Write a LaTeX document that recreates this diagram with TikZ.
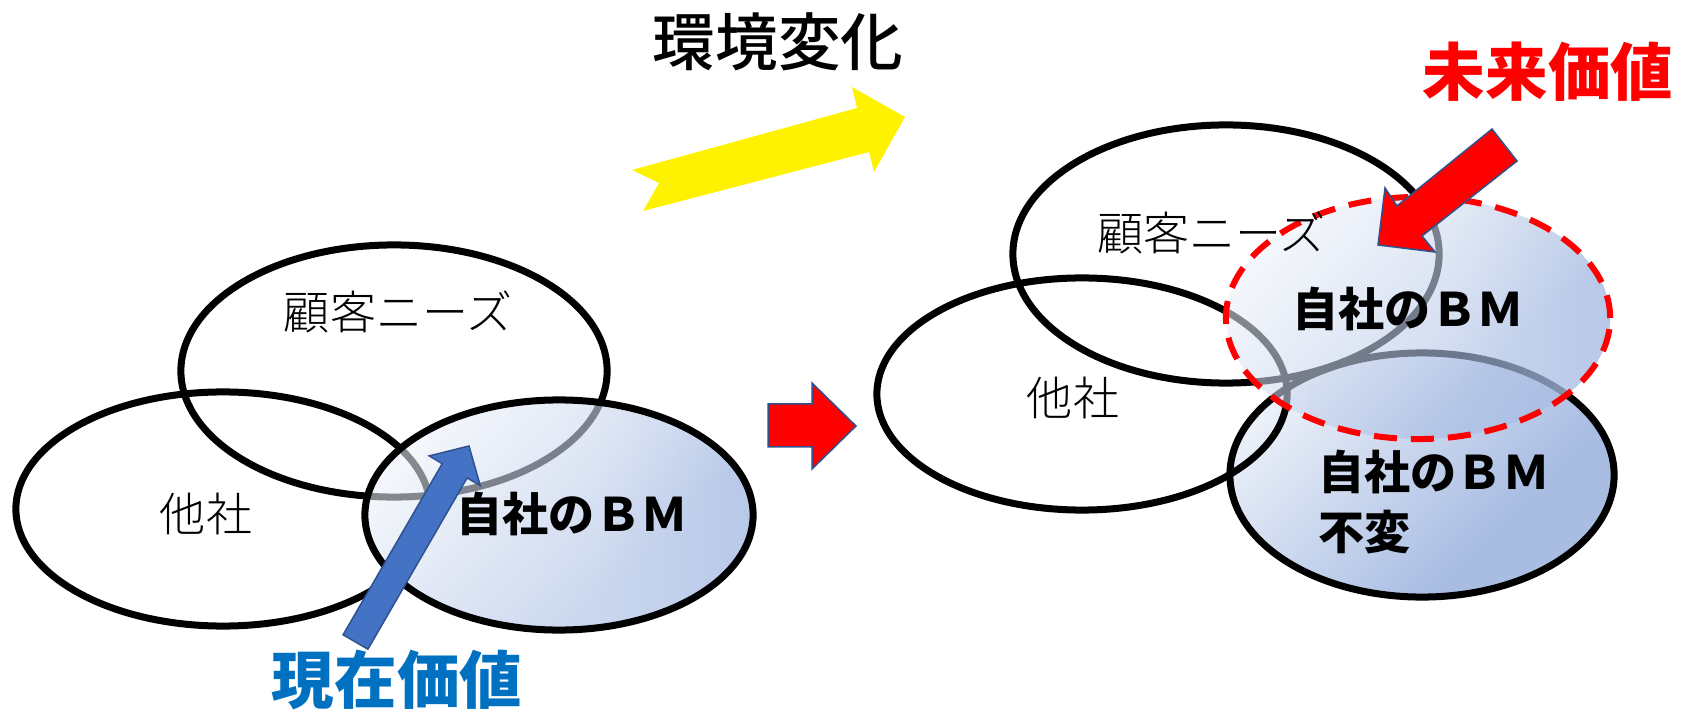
\documentclass[tikz,border=0pt]{standalone}
\usepackage{fontspec}
\newfontfamily\jp{Noto Sans CJK JP}
\newfontfamily\jplight{Noto Sans CJK JP Light}
\newfontfamily\jpmed{Noto Sans CJK JP Medium}
\usetikzlibrary{fadings}
\definecolor{bmlight}{HTML}{F8FAFD}
\definecolor{bmdark}{HTML}{A9BDE3}
\definecolor{arrblue}{HTML}{4472C4}
\definecolor{arredge}{HTML}{2F528F}
\definecolor{txtblue}{HTML}{0070C0}
\pgfdeclareverticalshading{bmshading}{100bp}{color(0bp)=(bmdark); color(36bp)=(bmdark); color(82bp)=(bmlight); color(100bp)=(bmlight)}
\pgfdeclareverticalshading{bmfadeshading}{100bp}{color(0bp)=(white); color(30bp)=(white); color(48bp)=(black!40); color(100bp)=(black!50)}
\makeatletter
\newcommand\resetpicbb{\global\pgf@picminx=16000pt\global\pgf@picminy=16000pt
  \global\pgf@picmaxx=-16000pt\global\pgf@picmaxy=-16000pt}
\makeatother
\begin{document}
\begin{tikzpicture}[x=0.01cm,y=-0.01cm,
  venn/.style={draw=black, line width=0.07cm},
  bmshade/.style={shading=bmshading, shading angle=45},
  lbl/.style={font=\jplight\fontsize{13.1pt}{16.8pt}\selectfont, inner sep=0pt},
  lblb/.style={font=\jp\bfseries\fontsize{13.1pt}{16.8pt}\selectfont, inner sep=0pt},
  bigm/.style={font=\jpmed\fontsize{17.8pt}{20pt}\selectfont, inner sep=0pt},
  bigb/.style={font=\jp\bfseries\fontsize{17.8pt}{20pt}\selectfont, inner sep=0pt},
  shapearrow/.style={draw=arredge, line width=0.015cm, line join=miter}]
\begin{tikzfadingfrompicture}[name=bmfade]
\shade[shading=bmfadeshading, shading angle=90] (-50bp,-50bp) rectangle (50bp,50bp);
\end{tikzfadingfrompicture}
\resetpicbb
\useasboundingbox (0,0) rectangle (1686,716);

% ---------- left diagram ----------
\draw[venn] (394,371) ellipse [x radius=2.13cm, y radius=1.26cm];
\draw[venn] (223,509) ellipse [x radius=2.07cm, y radius=1.17cm];
\shade[bmshade, path fading=bmfade] (559,515) ellipse [x radius=1.94cm, y radius=1.15cm];
\draw[venn] (559,515) ellipse [x radius=1.94cm, y radius=1.15cm];

\node[lbl] (kokyakuL) at (398,312) {顧客ニーズ};
\node[lbl] (tashaL) at (206,514) {他社};
\node[lblb] (bmL) at (572,514) {自社のＢＭ};

\filldraw[fill=arrblue, shapearrow] (343.1,634.8) -- (442.2,463.7) -- (429.2,455.9) -- (469,446)
  -- (480.2,485.5) -- (467.1,477.9) -- (367.9,649.2) -- cycle;
\node[bigb, text=txtblue] (genzai) at (397,680) {現在価値};

% ---------- middle ----------
\node[bigm] (kankyo) at (778,42) {環境変化};
\fill[yellow] (632,170) -- (857,108) -- (852,87) -- (905,117) -- (874,172) -- (869,152)
  -- (643,211) -- (659,183) -- cycle;
\filldraw[fill=red, shapearrow] (768,404) -- (812,404) -- (812,383) -- (856,426) -- (812,469)
  -- (812,447) -- (768,447) -- cycle;

% ---------- right diagram ----------
\shade[bmshade] (1422,475) ellipse [x radius=1.92cm, y radius=1.22cm];
\draw[venn] (1422,475) ellipse [x radius=1.92cm, y radius=1.22cm];
\draw[venn] (1082,394) ellipse [x radius=2.05cm, y radius=1.16cm];
\draw[venn] (1226,254) ellipse [x radius=2.13cm, y radius=1.29cm];
\shade[bmshade, path fading=bmfade] (1418,318) ellipse [x radius=1.92cm, y radius=1.21cm];
\draw[red, line width=0.06cm, dash pattern=on 0.23cm off 0.14cm] (1418,318) ellipse [x radius=1.92cm, y radius=1.21cm];

\node[lbl] (kokyakuR) at (1211,233) {顧客ニーズ};
\node[lbl] (tashaR) at (1073,398) {他社};
\node[lblb] (bmR) at (1408,309) {自社のＢＭ};
\node[lblb, anchor=west, align=left] (bmK) at (1318,502) {自社のＢＭ\\不変};

\filldraw[fill=red, shapearrow] (1492,129) -- (1397,206) -- (1385,188) -- (1378,245) -- (1435,252)
  -- (1422,236) -- (1517,161) -- cycle;
\node[bigb, text=red] (mirai) at (1548,72) {未来価値};
\end{tikzpicture}
\end{document}
